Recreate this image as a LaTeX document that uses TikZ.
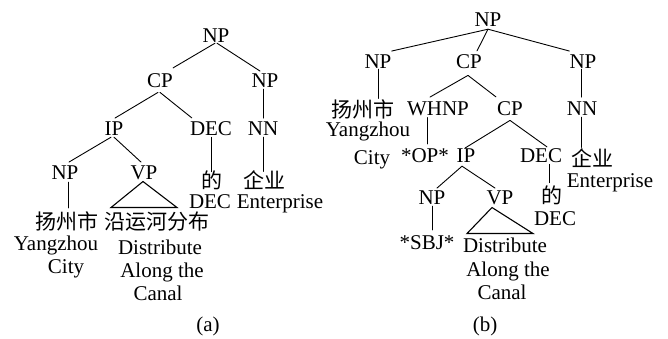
\documentclass[tikz,border=0pt]{standalone}
\usepackage{fontspec}
\setmainfont{Liberation Serif}
\newfontfamily\cjk{Noto Sans CJK SC}
\begin{document}
\begin{tikzpicture}[x=1bp,y=-1bp,
  t/.style={inner sep=0pt,anchor=base,font=\fontsize{21bp}{24bp}\selectfont},
  c/.style={t,font=\fontsize{21bp}{24bp}\selectfont\cjk},
  edge/.style={line width=0.9pt,line cap=round},
  tri/.style={line width=1.1pt,line join=miter}]
\useasboundingbox (0,0) rectangle (668,338);
% ---------- tree (a) ----------
\node[t] (npA)  at (216,42)  {NP};
\node[t] (cpA)  at (160,87)  {CP};
\node[t] (np2A) at (265,87)  {NP};
\node[t] (ipA)  at (114,135) {IP};
\node[t] (decA) at (211,135) {DEC};
\node[t] (nnA)  at (263,135) {NN};
\node[t] (np3A) at (65,179)  {NP};
\node[t] (vpA)  at (144,179) {VP};
\node[c] (deA)  at (212,188.5) {的};
\node[t] (dec2A) at (210,208) {DEC};
\node[c] (qiyeA) at (264,188.5) {企业};
\node[t] (entA) at (280,208) {Enterprise};
\node[c] (yzA)  at (67,229)  {扬州市};
\node[t] (yangA) at (56,250) {Yangzhou};
\node[t] (cityA) at (66,273) {City};
\node[c] (yanA) at (157,229) {沿运河分布};
\node[t] (distA) at (160,254) {Distribute};
\node[t] (alongA) at (162,277) {Along the};
\node[t] (canalA) at (158,300) {Canal};
\node[t] (labA) at (208,331) {(a)};
\draw[edge] ([shift={(-1,1)}]npA.south) -- ([shift={(0,-5)}]cpA.north east);
\draw[edge] ([shift={(1,1)}]npA.south) -- ([shift={(-5,-2)}]np2A.north);
\draw[edge] ([shift={(-2,5)}]cpA.south) -- ([shift={(1,-3)}]ipA.north);
\draw[edge] ([shift={(0,5)}]cpA.south) -- ([shift={(2,-3)}]decA.north west);
\draw[edge] ([shift={(-3,2)}]ipA.south) -- ([shift={(4,-3)}]np3A.north);
\draw[edge] ([shift={(0,2)}]ipA.south) -- ([shift={(-3,-3)}]vpA.north);
\draw[edge] ([shift={(-2,2)}]np2A.south) -- ([shift={(0,-3)}]nnA.north);
\draw[edge] ([shift={(0,2)}]decA.south) -- ([shift={(-1,1)}]deA.north);
\draw[edge] ([shift={(0,2)}]nnA.south) -- ([shift={(-1,1)}]qiyeA.north);
\draw[edge] ([shift={(3,3)}]np3A.south) -- ([shift={(1,-3)}]yzA.north);
\draw[tri] ([shift={(-1,2)}]vpA.south) -- ++(-32,26) -- ++(66,0) -- cycle;
% ---------- tree (b) ----------
\node[t] (npB)  at (488,26)  {NP};
\node[t] (npLB) at (378,68)  {NP};
\node[t] (cpB)  at (469,68)  {CP};
\node[t] (npRB) at (583,68)  {NP};
\node[c] (yzB)  at (363,117.5) {扬州市};
\node[t] (yangB) at (368,136) {Yangzhou};
\node[t] (cityB) at (372,164) {City};
\node[t] (whnpB) at (438,115) {WHNP};
\node[t] (cp2B) at (510,115) {CP};
\node[t] (nnB)  at (582,115) {NN};
\node[t] (opB)  at (425,162) {*OP*};
\node[t] (ipB)  at (466,162) {IP};
\node[t] (decB) at (541,162) {DEC};
\node[c] (qiyeB) at (592,166.5) {企业};
\node[t] (entB) at (610,187) {Enterprise};
\node[c] (deB)  at (552,203.5) {的};
\node[t] (dec2B) at (555,225) {DEC};
\node[t] (np2B) at (432,204) {NP};
\node[t] (vpB)  at (500,204) {VP};
\node[t] (sbjB) at (427,249) {*SBJ*};
\node[t] (distB) at (505,252) {Distribute};
\node[t] (alongB) at (508,276) {Along the};
\node[t] (canalB) at (502,299) {Canal};
\node[t] (labB) at (485,331) {(b)};
\draw[edge] ([shift={(0,3)}]npB.south) -- ([shift={(0,-3)}]npLB.north east);
\draw[edge] ([shift={(0,3)}]npB.south) -- ([shift={(8,-3)}]cpB.north);
\draw[edge] ([shift={(0,3)}]npB.south) -- ([shift={(0,-3)}]npRB.north west);
\draw[edge] ([shift={(0,1)}]npLB.south) -- ([shift={(15,-1)}]yzB.north);
\draw[edge] ([shift={(-1,7)}]cpB.south) -- ([shift={(-8,-4)}]whnpB.north);
\draw[edge] ([shift={(-1,7)}]cpB.south) -- ([shift={(-1,-4)}]cp2B.north west);
\draw[edge] ([shift={(-2,1)}]npRB.south) -- ([shift={(-1,-4)}]nnB.north);
\draw[edge] ([shift={(-11,2)}]whnpB.south) -- ([shift={(2,-4)}]opB.north);
\draw[edge] ([shift={(0,5)}]cp2B.south) -- ([shift={(-1,0)}]ipB.north);
\draw[edge] ([shift={(0,5)}]cp2B.south) -- ([shift={(6,-1)}]decB.north);
\draw[edge] ([shift={(-1,2)}]nnB.south) -- ([shift={(-11,-1)}]qiyeB.north);
\draw[edge] ([shift={(8,2)}]decB.south) -- ([shift={(-3,-3)}]deB.north);
\draw[edge] ([shift={(-4,4)}]ipB.south) -- ([shift={(5,-2)}]np2B.north);
\draw[edge] ([shift={(-4,4)}]ipB.south) -- ([shift={(-5,-2)}]vpB.north);
\draw[edge] ([shift={(0,2)}]np2B.south) -- ([shift={(5,-5)}]sbjB.north);
\draw[tri] ([shift={(-8,3)}]vpB.south) -- ++(-25,26) -- ++(66,0) -- cycle;
\end{tikzpicture}
\end{document}
